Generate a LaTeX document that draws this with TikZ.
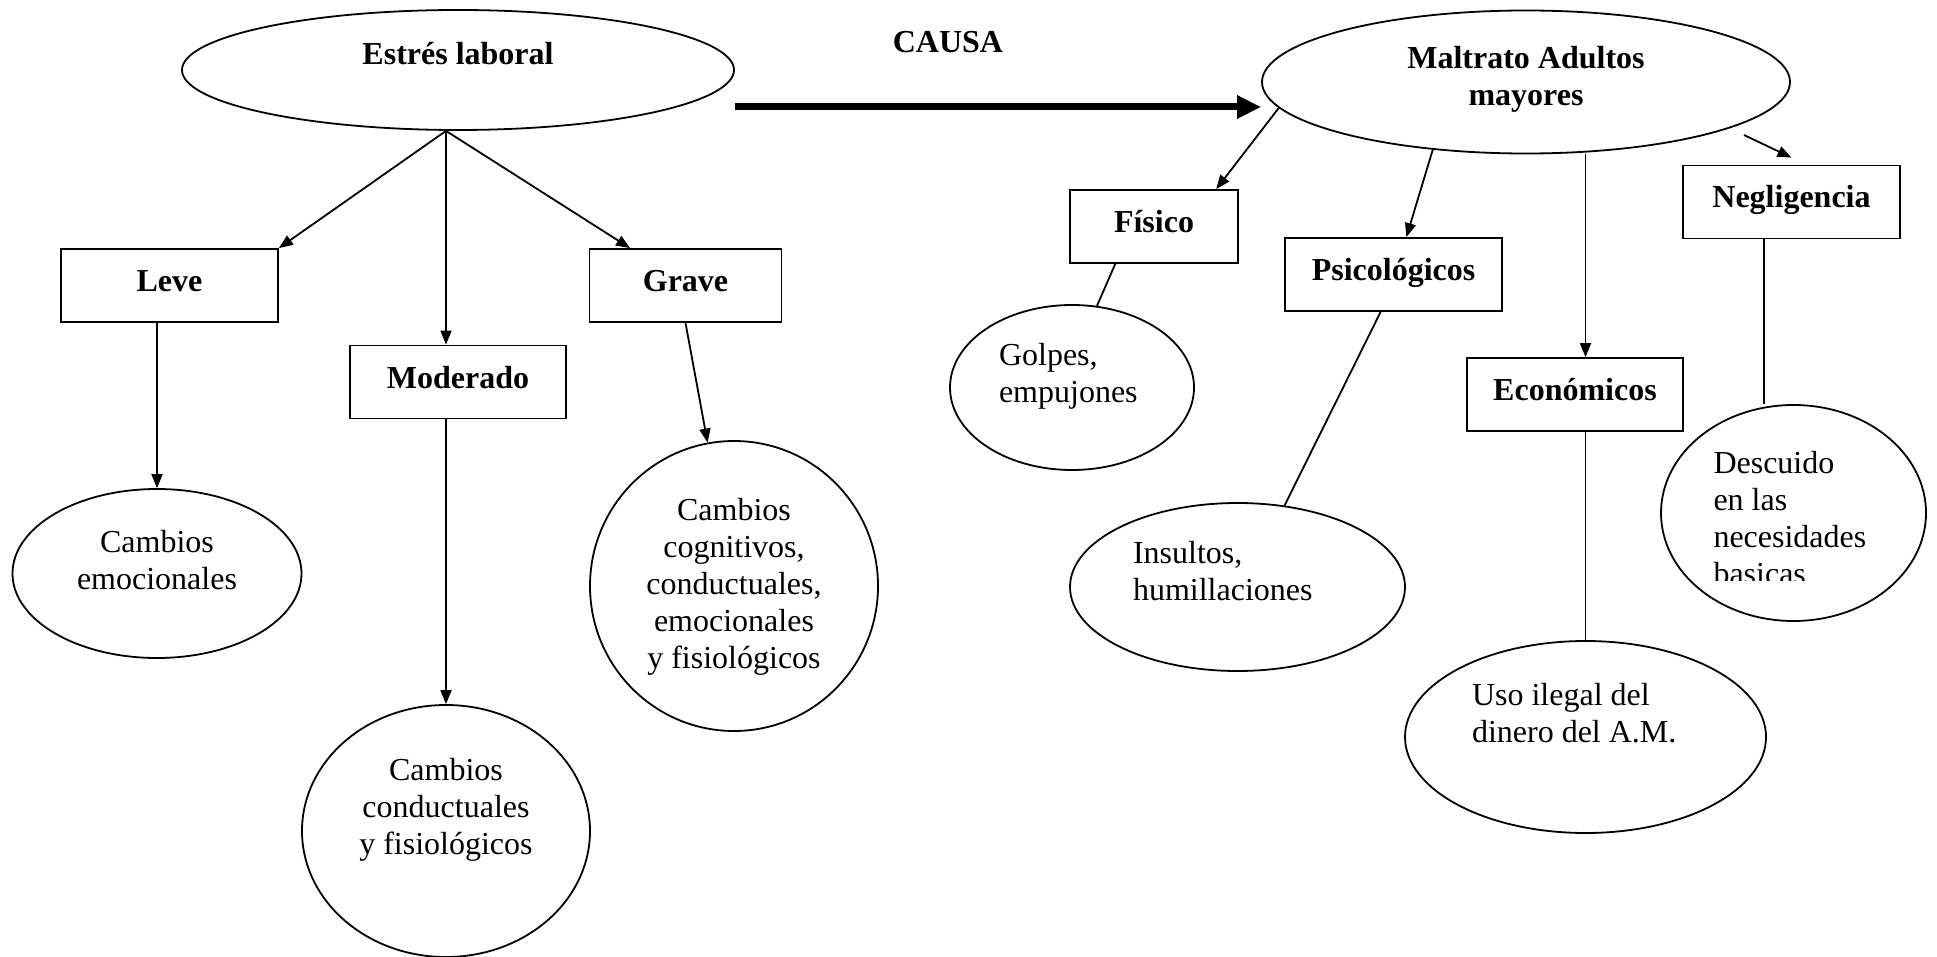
\documentclass[tikz,border=0pt]{standalone}
\usepackage{fontspec}
\setmainfont{Liberation Serif}
\usetikzlibrary{shapes.geometric, arrows.meta}

\begin{document}
\begin{tikzpicture}[
  x=1pt, y=-1pt,
  font=\fontsize{32}{37}\selectfont,
  box/.style={draw, line width=1.8pt, font=\fontsize{32}{37}\selectfont\bfseries,
              minimum height=73pt, inner sep=0pt, text height=22pt, text depth=10pt},
  oval/.style={draw, ellipse, line width=1.8pt, inner sep=0pt, text height=22pt},
  arr/.style={-{Triangle[length=14pt, width=11pt]}, line width=1.8pt},
  link/.style={line width=1.8pt},
  big/.style={-{Triangle[length=24pt, width=22pt]}, line width=7pt},
]
\useasboundingbox (0, 0) rectangle (1937, 957);

% Left side
\node[oval, minimum width=552pt, minimum height=120pt, text depth=32pt,
      font=\fontsize{32}{37}\selectfont\bfseries] (estres) at (458, 70)
{Estrés laboral};

\node[box, minimum width=217pt] (leve) at (169.5, 285.5) {Leve};
\node[box, minimum width=216pt] (mod) at (458, 382) {Moderado};
\node[box, minimum width=192pt] (grave) at (685.5, 285.5) {Grave};

\node[oval, minimum width=289pt, minimum height=169pt, text width=190pt,
      align=flush center, text depth=65pt] (ce) at (157, 573.5)
{Cambios\\emocionales};
\node[oval, minimum width=288pt, minimum height=252pt, text width=190pt,
      align=flush center, text depth=124pt] (cc) at (446, 831)
{Cambios\\conductuales\\y fisiológicos};
\node[oval, minimum width=288pt, minimum height=290pt, text width=190pt,
      align=flush center, text depth=154pt] (cg) at (734, 586)
{Cambios\\cognitivos,\\conductuales,\\emocionales\\y fisiológicos};

% Middle
\node[font=\fontsize{32}{37}\selectfont\bfseries] (causa) at (948, 42) {CAUSA};

% Right side
\node[oval, minimum width=528pt, minimum height=143pt, text width=320pt,
      align=flush center, text depth=49pt, font=\fontsize{32}{37}\selectfont\bfseries]
      (ma) at (1526, 82)
{Maltrato Adultos\\mayores};

\node[box, minimum width=168pt] (fis) at (1154, 226.5) {Físico};
\node[box, minimum width=217pt] (psy) at (1393.5, 274.5) {Psicológicos};
\node[box, minimum width=216pt] (eco) at (1575, 394.5) {Económicos};
\node[box, minimum width=217pt] (neg) at (1791.5, 202) {Negligencia};

\node[oval, minimum width=244pt, minimum height=165pt, text width=146pt,
      align=flush left, text depth=67pt] (gol) at (1072, 387.5)
{Golpes,\\empujones};
\node[oval, minimum width=335pt, minimum height=168pt, text width=209pt,
      align=flush left, text depth=70pt] (ins) at (1237.5, 587)
{Insultos,\\humillaciones};
\node[oval, minimum width=361pt, minimum height=192pt, text width=227pt,
      align=flush left, text depth=85pt] (uso) at (1585.5, 737)
{Uso ilegal del\\dinero del A.M.};
\node[oval, minimum width=265pt, minimum height=216pt] (des) at (1793.5, 513) {};
\begin{scope}
  \clip (1650, 395) rectangle (1940, 580);
  \node[text width=160pt, align=flush left, inner sep=0pt, text height=22pt,
        text depth=102pt] (destxt) at (des.center)
  {Descuido\\en las\\necesidades\\basicas};
\end{scope}

% Arrows
\coordinate (apex) at (estres.south -| cc.north);
\draw[arr] (apex) -- (leve.north east);
\draw[arr] (apex) -- (apex |- mod.north);
\draw[arr] (apex) -- (grave.146);
\draw[arr] (leve.south -| ce.north) -- (ce.north);
\draw[arr] (mod.south -| cc.north) -- (cc.north);
\draw[arr] (grave.south) -- (cg);

\draw[big] ([yshift=-37pt]estres.east) -- ([yshift=-25pt]ma.west);

\draw[arr] (ma.186) -- (fis.31);
\draw[arr] (ma.216) -- (psy.71);
\draw[arr] (ma.south -| uso.north) -- (eco.north -| uso.north);
\coordinate (negtail) at (1744, 135);
\draw[arr] (negtail) -- ([yshift=7pt]neg.north);

% Lines
\draw[link] (fis.224) -- (gol.73);
\draw[link] (psy.251) -- (ins.60);
\draw[link] (eco.south -| uso.north) -- (uso.north);
\draw[link] (neg.234) -- (neg.234 |- des.north);
\end{tikzpicture}
\end{document}
